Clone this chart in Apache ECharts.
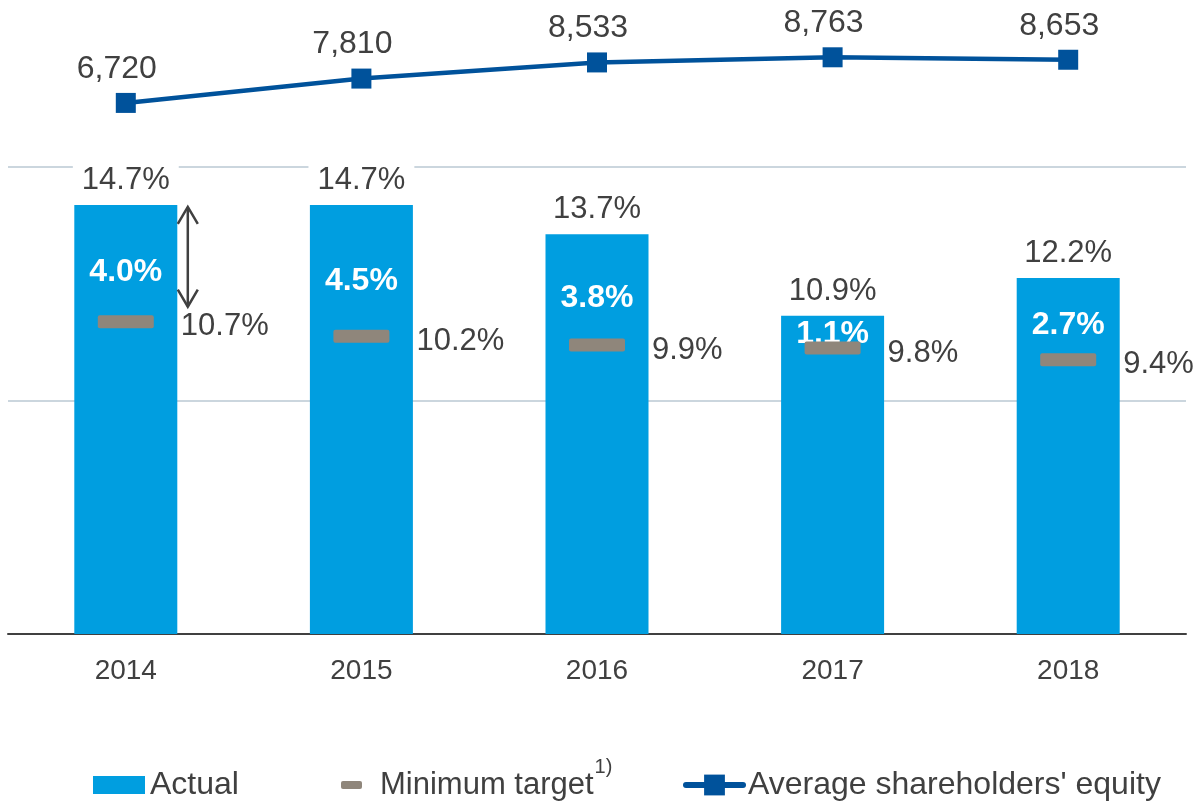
<!DOCTYPE html>
<html>
<head>
<meta charset="utf-8">
<script src="https://cdn.jsdelivr.net/npm/echarts@6/dist/echarts.min.js"></script>
<style>
html,body{margin:0;padding:0;background:#fff;}
#main{width:1202px;height:801px;}
</style>
</head>
<body>
<div id="main"></div>
<script>
const years = ['2014', '2015', '2016', '2017', '2018'];
const actual = [14.7, 14.7, 13.7, 10.9, 12.2];
const minTarget = [10.7, 10.2, 9.9, 9.8, 9.4];
const gapToTarget = [4.0, 4.5, 3.8, 1.1, 2.7];
const equity = [6720, 7810, 8533, 8763, 8653];

const FONT = "'Liberation Sans', Arial, sans-serif";
const TXT = '#404040';
const BAR = '#009ee0';
const TGT = '#8f867b';
const LINE = '#00529b';
const TARGET_SYMBOL = 'path://M2,0 H54 Q56,0 56,2 V11 Q56,13 54,13 H2 Q0,13 0,11 V2 Q0,0 2,0 Z';

const chart = echarts.init(document.getElementById('main'), null, {renderer: 'canvas'});

const option = {
  animation: false,
  backgroundColor: '#fff',
  textStyle: {fontFamily: FONT, color: TXT},
  grid: [
    {left: 8, right: 16, top: 167, bottom: 167},
    {left: 8, right: 16, top: 52, height: 67}
  ],
  xAxis: [
    {
      type: 'category', gridIndex: 0, data: years,
      axisLine: {lineStyle: {color: TXT, width: 2}},
      axisTick: {show: false},
      axisLabel: {fontSize: 28, color: TXT, fontFamily: FONT, margin: 23}
    },
    {type: 'category', gridIndex: 1, data: years, show: false}
  ],
  yAxis: [
    {
      type: 'value', gridIndex: 0, min: 0, max: 16, interval: 8,
      axisLabel: {show: false}, axisLine: {show: false}, axisTick: {show: false},
      splitLine: {lineStyle: {color: '#cbd6de', width: 2}}
    },
    {type: 'value', gridIndex: 1, min: 6000, max: 9000, show: false}
  ],
  legend: [
    {
      data: ['Actual'], left: 93, top: 769, padding: 0,
      icon: 'rect', itemWidth: 52, itemHeight: 18,
      textStyle: {fontSize: 32, color: TXT, fontFamily: FONT}
    },
    {
      data: ['Minimum target'], left: 341, top: 757, padding: 0,
      icon: 'roundRect', itemWidth: 21, itemHeight: 8,
      formatter: function (n) { return '{a|' + n + '}{s|1)}'; },
      textStyle: {
        fontSize: 32, color: TXT, fontFamily: FONT, padding: [0, 0, 0, 13],
        rich: {
          a: {fontSize: 31, color: TXT, fontFamily: FONT, lineHeight: 56},
          s: {fontSize: 20, color: TXT, fontFamily: FONT, lineHeight: 22, verticalAlign: 'top', padding: [0, 0, 0, 1]}
        }
      }
    },
    {
      data: ["Average shareholders' equity"], left: 683, top: 769, padding: 0,
      itemWidth: 57, itemHeight: 26,
      lineStyle: {width: 6, cap: 'round'},
      textStyle: {fontSize: 32, color: TXT, fontFamily: FONT}
    }
  ],
  series: [
    {
      name: 'Actual', type: 'bar', xAxisIndex: 0, yAxisIndex: 0,
      data: actual, barWidth: 103,
      itemStyle: {color: BAR},
      label: {
        show: true, position: 'top', distance: 9,
        fontSize: 31, color: TXT, fontFamily: FONT,
        backgroundColor: '#fff', padding: [0, 9, 0, 9],
        formatter: function (p) { return p.value.toFixed(1) + '%'; }
      },
      z: 2
    },
    {
      name: 'gap', type: 'scatter', xAxisIndex: 0, yAxisIndex: 0,
      data: minTarget.map(function (t, i) { return t + 0.42 * (actual[i] - t); }),
      symbolSize: 2, itemStyle: {color: 'rgba(0,0,0,0)', opacity: 1},
      silent: true,
      label: {
        show: true, position: 'inside', offset: [0, 0],
        fontSize: 32, fontWeight: 'bold', color: '#ffffff', fontFamily: FONT, opacity: 1,
        formatter: function (p) { return gapToTarget[p.dataIndex].toFixed(1) + '%'; }
      },
      z: 3
    },
    {
      name: 'Minimum target', type: 'scatter', xAxisIndex: 0, yAxisIndex: 0,
      data: minTarget, symbol: TARGET_SYMBOL, symbolSize: [56, 13], symbolKeepAspect: false,
      itemStyle: {color: TGT, opacity: 1},
      label: {
        show: true, position: 'right', distance: 27, offset: [0, 5],
        fontSize: 31, color: TXT, fontFamily: FONT, opacity: 1,
        formatter: function (p) { return p.value.toFixed(1) + '%'; }
      },
      z: 6
    },
    {
      name: "Average shareholders' equity", type: 'line', xAxisIndex: 1, yAxisIndex: 1,
      data: equity, symbol: 'rect', symbolSize: 20,
      itemStyle: {color: LINE},
      lineStyle: {color: LINE, width: 4.5},
      label: {
        show: true, position: 'top', distance: 8, offset: [-9, 0],
        fontSize: 32, color: TXT, fontFamily: FONT,
        formatter: function (p) { return p.value.toLocaleString('en-US'); }
      },
      z: 3
    }
  ]
};

chart.setOption(option);

// Double arrow marking the gap between actual and target for the first year
const pTop = chart.convertToPixel({xAxisIndex: 0, yAxisIndex: 0}, [0, actual[0]]);
const pBot = chart.convertToPixel({xAxisIndex: 0, yAxisIndex: 0}, [0, minTarget[0]]);
const ax = pTop[0] + 62;
const y1 = pTop[1] + 2;
const y2 = pBot[1] - 15;
const aStyle = {stroke: TXT, lineWidth: 2.5, fill: null};
chart.setOption({
  graphic: [
    {type: 'line', shape: {x1: ax, y1: y1, x2: ax, y2: y2}, style: aStyle, z: 10},
    {type: 'polyline', shape: {points: [[ax - 10, y1 + 17], [ax, y1], [ax + 10, y1 + 17]]}, style: aStyle, z: 10},
    {type: 'polyline', shape: {points: [[ax - 10, y2 - 17], [ax, y2], [ax + 10, y2 - 17]]}, style: aStyle, z: 10}
  ]
});
</script>
</body>
</html>
